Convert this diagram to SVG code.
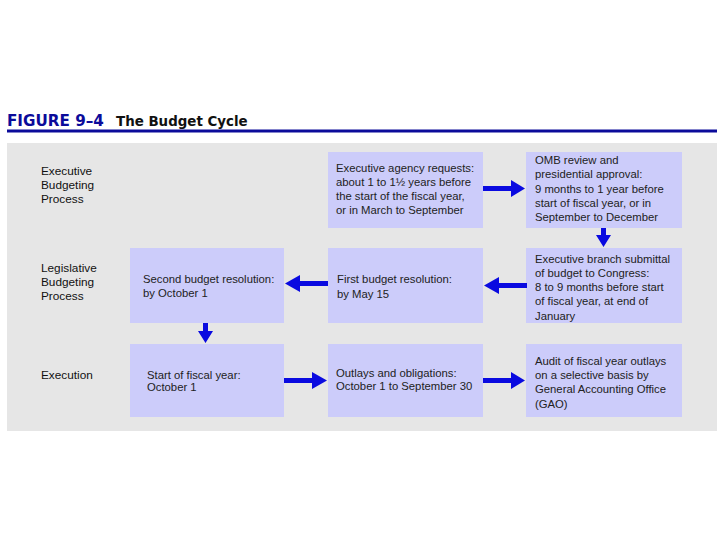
<svg xmlns="http://www.w3.org/2000/svg" width="720" height="540" viewBox="0 0 720 540">
<style>
.t{font-family:"Liberation Sans",Arial,sans-serif;font-size:11.3px;fill:#222}
.lab{font-family:"Liberation Sans",Arial,sans-serif;font-size:11.8px;fill:#111}
.box{fill:#ccccfa}
.arr{fill:#0a0ae0}
</style>
<rect width="720" height="540" fill="#fff"/>
<g id="title">
<text x="7" y="126" font-family="'DejaVu Sans',Arial,sans-serif" font-weight="bold" font-size="15.2" fill="#0b0b9a">FIGURE 9–4</text>
<text x="116" y="126" font-family="'DejaVu Sans',Arial,sans-serif" font-weight="bold" font-size="13.4" fill="#111">The Budget Cycle</text>
<rect x="7" y="129.5" width="710" height="3" fill="#0b0b9a"/>
</g>
<rect id="panel" x="7" y="143" width="710" height="288" fill="#e6e6e6"/>
<g id="rowlabels">
<text class="lab" x="41" y="175">Executive</text>
<text class="lab" x="41" y="189">Budgeting</text>
<text class="lab" x="41" y="203">Process</text>
<text class="lab" x="41" y="272">Legislative</text>
<text class="lab" x="41" y="286">Budgeting</text>
<text class="lab" x="41" y="300">Process</text>
<text class="lab" x="41" y="379">Execution</text>
</g>
<g id="n1"><rect class="box" x="328" y="152" width="155" height="76"/>
<text class="t" x="336" y="172">Executive agency requests:</text>
<text class="t" x="336" y="186">about 1 to 1½ years before</text>
<text class="t" x="336" y="200">the start of the fiscal year,</text>
<text class="t" x="336" y="214">or in March to September</text></g>
<g id="n2"><rect class="box" x="526" y="152" width="156" height="76"/>
<text class="t" x="535" y="164">OMB review and</text>
<text class="t" x="535" y="178">presidential approval:</text>
<text class="t" x="535" y="193">9 months to 1 year before</text>
<text class="t" x="535" y="207">start of fiscal year, or in</text>
<text class="t" x="535" y="221">September to December</text></g>
<g id="n3"><rect class="box" x="526" y="248" width="156" height="75"/>
<text class="t" x="535" y="263">Executive branch submittal</text>
<text class="t" x="535" y="277">of budget to Congress:</text>
<text class="t" x="535" y="291">8 to 9 months before start</text>
<text class="t" x="535" y="305">of fiscal year, at end of</text>
<text class="t" x="535" y="320">January</text></g>
<g id="n4"><rect class="box" x="328" y="248" width="155" height="75"/>
<text class="t" x="337" y="283">First budget resolution:</text>
<text class="t" x="337" y="298">by May 15</text></g>
<g id="n5"><rect class="box" x="130" y="248" width="154" height="75"/>
<text class="t" x="143" y="283">Second budget resolution:</text>
<text class="t" x="143" y="297">by October 1</text></g>
<g id="n6"><rect class="box" x="130" y="344" width="154" height="73"/>
<text class="t" x="147" y="379">Start of fiscal year:</text>
<text class="t" x="147" y="391">October 1</text></g>
<g id="n7"><rect class="box" x="328" y="344" width="155" height="73"/>
<text class="t" x="336" y="377">Outlays and obligations:</text>
<text class="t" x="336" y="390">October 1 to September 30</text></g>
<g id="n8"><rect class="box" x="526" y="344" width="156" height="73"/>
<text class="t" x="535" y="365">Audit of fiscal year outlays</text>
<text class="t" x="535" y="379">on a selective basis by</text>
<text class="t" x="535" y="393">General Accounting Office</text>
<text class="t" x="535" y="408">(GAO)</text></g>
<g id="connectors" class="arr">
<polygon points="483,186 511,186 511,180 525,188.5 511,197 511,191 483,191"/>
<polygon points="601,228 606,228 606,235 611,235 603.5,247 596,235 601,235"/>
<polygon points="527,283 499,283 499,277 484,285.5 499,294 499,288 527,288"/>
<polygon points="328,281 300,281 300,275 285,283.5 300,292 300,286 328,286"/>
<polygon points="203,323 208,323 208,331 213,331 205.5,343 198,331 203,331"/>
<polygon points="284,378 312,378 312,372 327,380.5 312,389 312,383 284,383"/>
<polygon points="483,378 511,378 511,372 525,380.5 511,389 511,383 483,383"/>
</g>
</svg>
